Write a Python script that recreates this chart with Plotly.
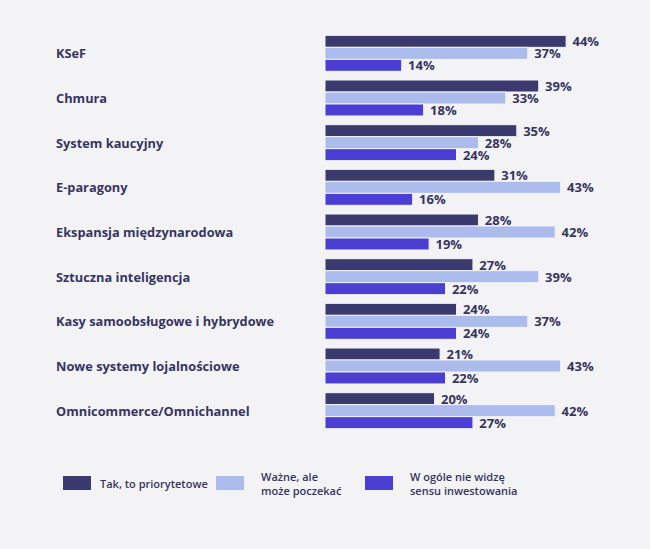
import plotly.graph_objects as go

categories = ["KSeF", "Chmura", "System kaucyjny", "E-paragony", "Ekspansja międzynarodowa",
              "Sztuczna inteligencja", "Kasy samoobsługowe i hybrydowe",
              "Nowe systemy lojalnościowe", "Omnicommerce/Omnichannel"]
priorytet = [44, 39, 35, 31, 28, 27, 24, 21, 20]
poczekac = [37, 33, 28, 43, 42, 39, 37, 43, 42]
bez_sensu = [14, 18, 24, 16, 19, 22, 24, 22, 27]
series_names = ["Tak, to priorytetowe", "Ważne, ale<br>może poczekać", "W ogóle nie widzę<br>sensu inwestowania"]
colors = ["#3b3a6e", "#abbbec", "#4a3fd2"]

BG = "#f3f3f6"
TXT = "#36355f"
W, H = 650, 549
L, R, T, B = 325, 20, 31, 116
pw = W - L - R
ph = H - T - B
xmax = pw / 5.48

fig = go.Figure()
for name, vals, c in zip(series_names, [priorytet, poczekac, bez_sensu], colors):
    fig.add_trace(go.Bar(
        y=categories, x=vals, orientation="h", name=name,
        marker=dict(color=c, line=dict(color=BG, width=1)),
        text=[f"\u00a0{v}%" for v in vals], textposition="outside", constraintext="none",
        textfont=dict(family="Open Sans", size=13, color=TXT, weight="bold"),
        cliponaxis=False, showlegend=False,
    ))

annotations = []
for cat in categories:
    annotations.append(dict(
        x=(54 - L) / pw, xref="paper", y=cat, yref="y", xanchor="left", yanchor="middle",
        text=f"<b>{cat}</b>", showarrow=False,
        font=dict(family="Open Sans", size=12.8, color=TXT),
    ))

shapes = []
legend_pos = [(63, 98), (216, 259), (365, 408)]
for (sx, tx), name, c in zip(legend_pos, series_names, colors):
    shapes.append(dict(type="rect", xref="paper", yref="paper",
                       x0=(sx - L) / pw, x1=(sx + 28 - L) / pw,
                       y0=(H - B - 476) / ph, y1=(H - B - 490) / ph,
                       fillcolor=c, line=dict(width=0)))
    annotations.append(dict(
        x=(tx - L) / pw, xref="paper", y=(H - B - 483) / ph, yref="paper",
        xanchor="left", yanchor="middle", align="left", text=name, showarrow=False,
        font=dict(family="Open Sans", size=11, color=TXT, weight=600),
    ))

fig.update_layout(
    width=W, height=H, margin=dict(l=L, r=R, t=T, b=B),
    paper_bgcolor=BG, plot_bgcolor=BG,
    barmode="group", bargap=0.195, bargroupgap=0,
    xaxis=dict(range=[0, xmax], visible=False),
    yaxis=dict(autorange="reversed", showticklabels=False, showgrid=False, zeroline=False),
    annotations=annotations, shapes=shapes,
)
fig.write_html("out.html", config={"displayModeBar": False},
               post_script="document.body.style.margin='0';document.body.style.background='#f3f3f6';")
